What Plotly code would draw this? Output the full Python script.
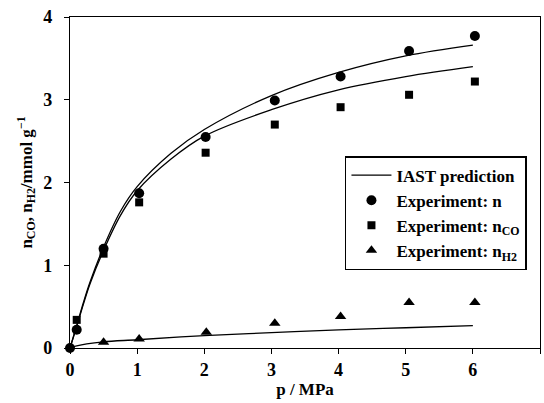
import plotly.graph_objects as go

# Experimental data
p_exp = [0.0, 0.1, 0.5, 1.03, 2.02, 3.05, 4.03, 5.05, 6.03]
n_total = [0.0, 0.22, 1.20, 1.87, 2.55, 2.99, 3.28, 3.59, 3.77]
p_co = [0.1, 0.5, 1.03, 2.02, 3.05, 4.03, 5.05, 6.03]
n_co = [0.34, 1.14, 1.76, 2.36, 2.70, 2.91, 3.06, 3.22]
p_h2 = [0.5, 1.03, 2.03, 3.05, 4.03, 5.05, 6.03]
n_h2 = [0.07, 0.11, 0.19, 0.30, 0.38, 0.55, 0.55]

# IAST prediction curves
p_iast = [0, 0.1, 0.2, 0.3, 0.5, 0.75, 1.0, 1.5, 2, 3, 4, 5, 6]
iast_total = [0, 0.27, 0.55, 0.80, 1.22, 1.65, 1.95, 2.35, 2.64, 3.05, 3.33, 3.53, 3.66]
iast_co = [0, 0.26, 0.53, 0.78, 1.18, 1.60, 1.90, 2.28, 2.56, 2.88, 3.12, 3.28, 3.40]
p_iast_h2 = [0, 0.1, 0.25, 0.5, 1, 2, 3, 4, 5, 6]
iast_h2 = [0, 0.025, 0.05, 0.075, 0.10, 0.15, 0.185, 0.22, 0.245, 0.27]

x_ticks = [0, 1, 2, 3, 4, 5, 6, 7]
y_ticks = [0, 1, 2, 3, 4]

FONT = "Liberation Serif"
line_style = dict(color="black", width=1.3, shape="spline")

fig = go.Figure()
fig.add_trace(go.Scatter(x=p_iast, y=iast_total, mode="lines", line=line_style,
                         name="<b>IAST prediction</b>", showlegend=True))
fig.add_trace(go.Scatter(x=p_iast, y=iast_co, mode="lines", line=line_style,
                         showlegend=False))
fig.add_trace(go.Scatter(x=p_iast_h2, y=iast_h2, mode="lines", line=line_style,
                         showlegend=False))
fig.add_trace(go.Scatter(x=p_exp, y=n_total, mode="markers", cliponaxis=False,
                         marker=dict(symbol="circle", size=10, color="black"),
                         name="<b>Experiment: n</b>"))
fig.add_trace(go.Scatter(x=p_co, y=n_co, mode="markers", cliponaxis=False,
                         marker=dict(symbol="square", size=8, color="black"),
                         name="<b>Experiment: n<sub>CO</sub></b>"))
fig.add_trace(go.Scatter(x=p_h2, y=n_h2, mode="markers", cliponaxis=False,
                         marker=dict(symbol="triangle-up", size=10, color="black"),
                         name="<b>Experiment: n<sub>H2</sub></b>"))

fig.update_layout(
    width=544, height=403,
    margin=dict(l=70, r=4, t=17, b=55),
    paper_bgcolor="white", plot_bgcolor="white",
    font=dict(family=FONT, color="black", size=16),
    showlegend=True,
    legend=dict(x=0.585, y=0.58, xanchor="left", yanchor="top",
                bordercolor="black", borderwidth=1.5, bgcolor="white",
                font=dict(family=FONT, size=17, color="black"),
                tracegroupgap=0, itemwidth=40),
)
fig.update_xaxes(range=[0, 7], tickvals=x_ticks, ticktext=[f"<b>{t}</b>" for t in x_ticks],
                 ticks="outside", ticklen=5,
                 tickcolor="black", showline=True, linecolor="black", linewidth=1.3,
                 mirror=True, showgrid=False, zeroline=False,
                 tickfont=dict(family=FONT, size=18),
                 title=dict(text="<b>p / MPa</b>", standoff=4,
                            font=dict(family=FONT, size=17)))
fig.update_yaxes(range=[0, 4], tickvals=y_ticks, ticktext=[f"<b>{t}</b>" for t in y_ticks],
                 ticks="outside", ticklen=5, ticklabelstandoff=8,
                 tickcolor="black", showline=True, linecolor="black", linewidth=1.3,
                 mirror=True, showgrid=False, zeroline=False,
                 tickfont=dict(family=FONT, size=18),
                 title=dict(text="<b>n<sub>CO</sub>, n<sub>H2</sub>/mmol g<sup>−1</sup></b>",
                            standoff=6,
                            font=dict(family=FONT, size=17)))

fig.write_html("out.html")
